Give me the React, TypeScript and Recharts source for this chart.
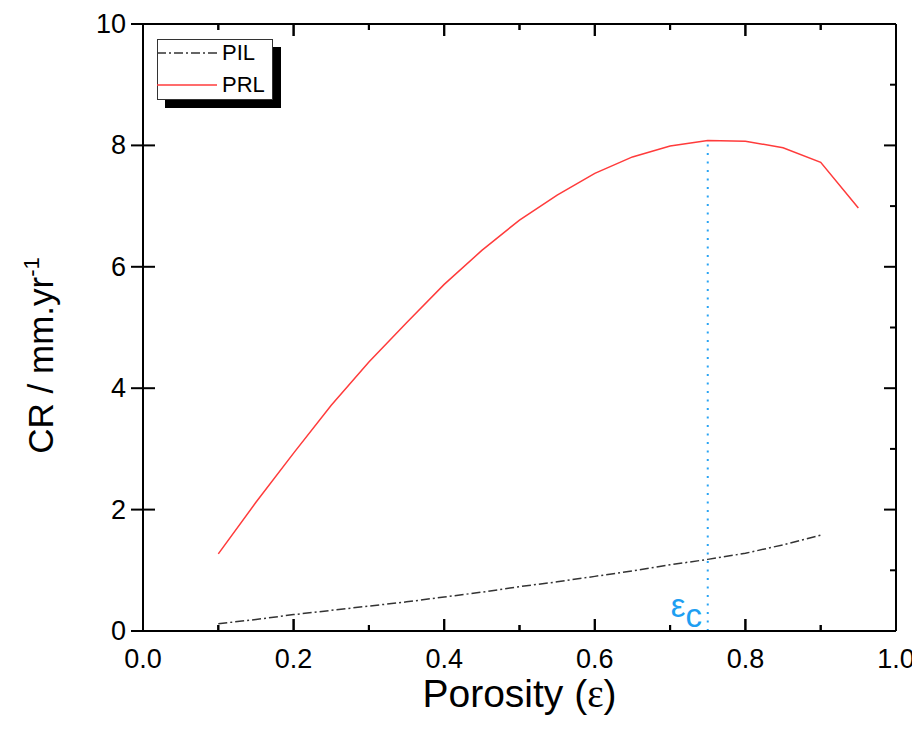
import React from 'react';
import { LineChart, Line, XAxis, YAxis, ReferenceLine, ReferenceDot, Legend } from 'recharts';

const porosity = [0.1, 0.15, 0.2, 0.25, 0.3, 0.35, 0.4, 0.45, 0.5, 0.55, 0.6, 0.65, 0.7, 0.75, 0.8, 0.85, 0.9, 0.95];
const pilValues = [0.12, 0.19, 0.27, 0.34, 0.41, 0.48, 0.56, 0.64, 0.73, 0.81, 0.9, 0.99, 1.09, 1.18, 1.28, 1.42, 1.58];
const prlValues = [1.27, 2.12, 2.93, 3.72, 4.43, 5.08, 5.71, 6.27, 6.77, 7.18, 7.54, 7.81, 7.99, 8.08, 8.07, 7.96, 7.72, 6.97];
const xTicks = [0, 0.1, 0.2, 0.3, 0.4, 0.5, 0.6, 0.7, 0.8, 0.9, 1.0];
const xMajorTicks = [0, 0.2, 0.4, 0.6, 0.8, 1.0];
const yTicks = [0, 2, 4, 6, 8, 10];
const yMinorTicks = [0, 1, 2, 3, 4, 5, 6, 7, 8, 9, 10];
const xDomain = [0, 1];
const yDomain = [0, 10];
const criticalPorosity = 0.75;
const criticalCR = 8.08;

const seriesNames = ['PIL', 'PRL'];
const seriesColors: Record<string, string> = { PIL: '#333333', PRL: '#ff3b3b' };
const seriesDash: Record<string, string | undefined> = { PIL: '9 3 2 3', PRL: undefined };

const data = porosity.map((p, i) => ({
  p,
  PIL: i < pilValues.length ? pilValues[i] : null,
  PRL: prlValues[i],
}));

const FONT = '"Liberation Sans", Arial, sans-serif';
const MAJOR = 12;
const MINOR = 6;

const isMajorX = (v: number) => xMajorTicks.some((t) => Math.abs(t - v) < 1e-6);
const isMajorY = (v: number) => yTicks.some((t) => Math.abs(t - v) < 1e-6);
const xFrac = (t: number) => (t - xDomain[0]) / (xDomain[1] - xDomain[0]);

// vertical tick marks (as thin filled rects) along a horizontal frame edge
const renderXTickRects = (left: number, width: number, edgeY: number, dir: number, prefix: string) =>
  xTicks.map((t) => {
    const px = left + xFrac(t) * width;
    const len = isMajorX(t) ? MAJOR : MINOR;
    const top = dir < 0 ? edgeY - len : edgeY;
    return <rect key={`${prefix}${t}`} x={px - 1} y={top} width={2} height={len} fill="#000" stroke="none" />;
  });

const BottomTick = (props: any) => {
  const { x, y, payload } = props;
  if (!isMajorX(payload.value)) return <g />;
  return (
    <text x={x} y={y + 37} textAnchor="middle" fontSize={27} fontFamily={FONT} fill="#000">
      {payload.value.toFixed(1)}
    </text>
  );
};

const LeftTick = (props: any) => {
  const { x, y, payload } = props;
  return (
    <g>
      <line x1={x - MAJOR} x2={x} y1={y} y2={y} stroke="#000" strokeWidth={2} />
      <text x={x - 17} y={y + 9} textAnchor="end" fontSize={27} fontFamily={FONT} fill="#000">
        {payload.value}
      </text>
    </g>
  );
};

// inner tick marks at the ends of a horizontal reference line (left majors & right frame);
// the lines at the bottom and top of the range also carry the x-frame ticks
const YInnerTicks = (props: any) => {
  const { x1, x2, y1, major, edge } = props;
  const left = Math.min(x1, x2);
  const right = Math.max(x1, x2);
  return (
    <g>
      {major && <line x1={left} x2={left + MAJOR} y1={y1} y2={y1} stroke="#000" strokeWidth={2} />}
      <line x1={right} x2={right - (major ? MAJOR : MINOR)} y1={y1} y2={y1} stroke="#000" strokeWidth={2} />
      {edge !== 0 && renderXTickRects(left, right - left, y1, edge, `e${edge}`)}
    </g>
  );
};

// bottom axis label: title + inner tick marks along the bottom frame
const XLabel = (props: any) => {
  const vb = props.viewBox || {};
  return (
    <g>
      {renderXTickRects(vb.x, vb.width, vb.y, -1, 'b')}
      <text x={vb.x + vb.width / 2} y={vb.y + 76} textAnchor="middle" fontSize={39} fontFamily={FONT} fill="#000">
        Porosity (<tspan fontFamily='"Liberation Serif", serif'>ε</tspan>)
      </text>
    </g>
  );
};

// top axis label: inner tick marks along the top frame
const TopTicksLabel = (props: any) => {
  const vb = props.viewBox || {};
  return <g>{renderXTickRects(vb.x, vb.width, vb.y + vb.height, 1, 't')}</g>;
};

const YLabel = (props: any) => {
  const vb = props.viewBox || {};
  const x = vb.x + 10;
  const y = vb.y + vb.height / 2 + 28;
  return (
    <text x={x} y={y} transform={`rotate(-90, ${x}, ${y})`} textAnchor="middle" fontSize={35} fontFamily={FONT} fill="#000">
      CR / mm.yr<tspan fontSize={22} dy={-14}>-1</tspan>
    </text>
  );
};

const EpsLabel = (props: any) => {
  const vb = props.viewBox || {};
  const cx = vb.x + (vb.width || 0) / 2;
  const cy = vb.y + (vb.height || 0) / 2;
  return (
    <text x={cx - 37} y={cy - 14} fontSize={33} fontFamily={FONT} fill="#1E9FF2">
      ε<tspan dy={10}>c</tspan>
    </text>
  );
};

const LegendBox = (props: any) => {
  const payload = (props.payload || []) as any[];
  const ordered = seriesNames.map((n) => payload.find((e) => e.value === n)).filter(Boolean);
  return (
    <div
      style={{
        position: 'relative',
        width: 116,
        height: 61,
        boxSizing: 'border-box',
        border: '1px solid #333',
        background: '#fff',
        boxShadow: '8px 8px 0 #000',
        fontFamily: FONT,
      }}
    >
      {ordered.map((e: any, i: number) => (
        <div
          key={e.value}
          style={{ position: 'absolute', left: -1, top: 1 + i * 32, height: 24, display: 'flex', alignItems: 'center' }}
        >
          <svg width={60} height={6} style={{ display: 'block' }}>
            <line x1={0} y1={3} x2={60} y2={3} stroke={seriesColors[e.value]} strokeWidth={1.5} strokeDasharray={seriesDash[e.value]} />
          </svg>
          <span style={{ fontSize: 22, marginLeft: 5, color: '#000', lineHeight: '24px' }}>{e.value}</span>
        </div>
      ))}
    </div>
  );
};

export default function App() {
  return (
    <div style={{ width: 912, height: 727, background: '#fff' }}>
      <LineChart
        width={912}
        height={727}
        data={data}
        margin={{ top: 10, right: 18, bottom: 44, left: 35 }}
        style={{ fontFamily: FONT }}
      >
        <XAxis
          xAxisId="b"
          dataKey="p"
          type="number"
          domain={xDomain}
          ticks={xTicks}
          interval={0}
          orientation="bottom"
          height={60}
          tickSize={0}
          tickMargin={0}
          tickLine={false}
          tick={<BottomTick />}
          axisLine={{ stroke: '#000', strokeWidth: 2 }}
          label={<XLabel />}
        />
        <XAxis
          xAxisId="t"
          dataKey="p"
          type="number"
          domain={xDomain}
          ticks={xTicks}
          orientation="top"
          height={6}
          tick={false}
          tickLine={false}
          axisLine={{ stroke: '#000', strokeWidth: 2 }}
          label={<TopTicksLabel />}
        />
        <YAxis
          yAxisId="l"
          type="number"
          domain={yDomain}
          ticks={yTicks}
          interval={0}
          orientation="left"
          width={100}
          tickSize={0}
          tickMargin={0}
          tickLine={false}
          tick={<LeftTick />}
          axisLine={{ stroke: '#000', strokeWidth: 2 }}
          label={<YLabel />}
        />
        <YAxis
          yAxisId="r"
          type="number"
          domain={yDomain}
          ticks={yMinorTicks}
          orientation="right"
          width={6}
          tick={false}
          tickLine={false}
          axisLine={{ stroke: '#000', strokeWidth: 2 }}
        />
        {yMinorTicks.map((t) => (
          <ReferenceLine
            key={`yt${t}`}
            xAxisId="b"
            yAxisId="l"
            y={t}
            ifOverflow="visible"
            stroke="#000"
            shape={(p: any) => (
              <YInnerTicks {...p} major={isMajorY(t)} edge={t === yDomain[0] ? -1 : t === yDomain[1] ? 1 : 0} />
            )}
          />
        ))}
        <ReferenceLine
          xAxisId="b"
          yAxisId="l"
          segment={[
            { x: criticalPorosity, y: 0 },
            { x: criticalPorosity, y: criticalCR },
          ]}
          stroke="#2AA4F4"
          strokeWidth={2}
          strokeDasharray="2 6.5"
        />
        <ReferenceDot xAxisId="b" yAxisId="l" x={criticalPorosity} y={0} r={0} stroke="none" fill="none" label={<EpsLabel />} />
        <Line
          xAxisId="b"
          yAxisId="l"
          type="linear"
          dataKey="PIL"
          name="PIL"
          stroke={seriesColors.PIL}
          strokeWidth={1.5}
          strokeDasharray={seriesDash.PIL}
          dot={false}
          activeDot={false}
          isAnimationActive={false}
        />
        <Line
          xAxisId="b"
          yAxisId="l"
          type="linear"
          dataKey="PRL"
          name="PRL"
          stroke={seriesColors.PRL}
          strokeWidth={1.5}
          dot={false}
          activeDot={false}
          isAnimationActive={false}
        />
        <Legend
          layout="horizontal"
          align="center"
          verticalAlign="middle"
          content={<LegendBox />}
          wrapperStyle={{ left: 149, top: 31, width: 116, height: 61 }}
        />
      </LineChart>
    </div>
  );
}
